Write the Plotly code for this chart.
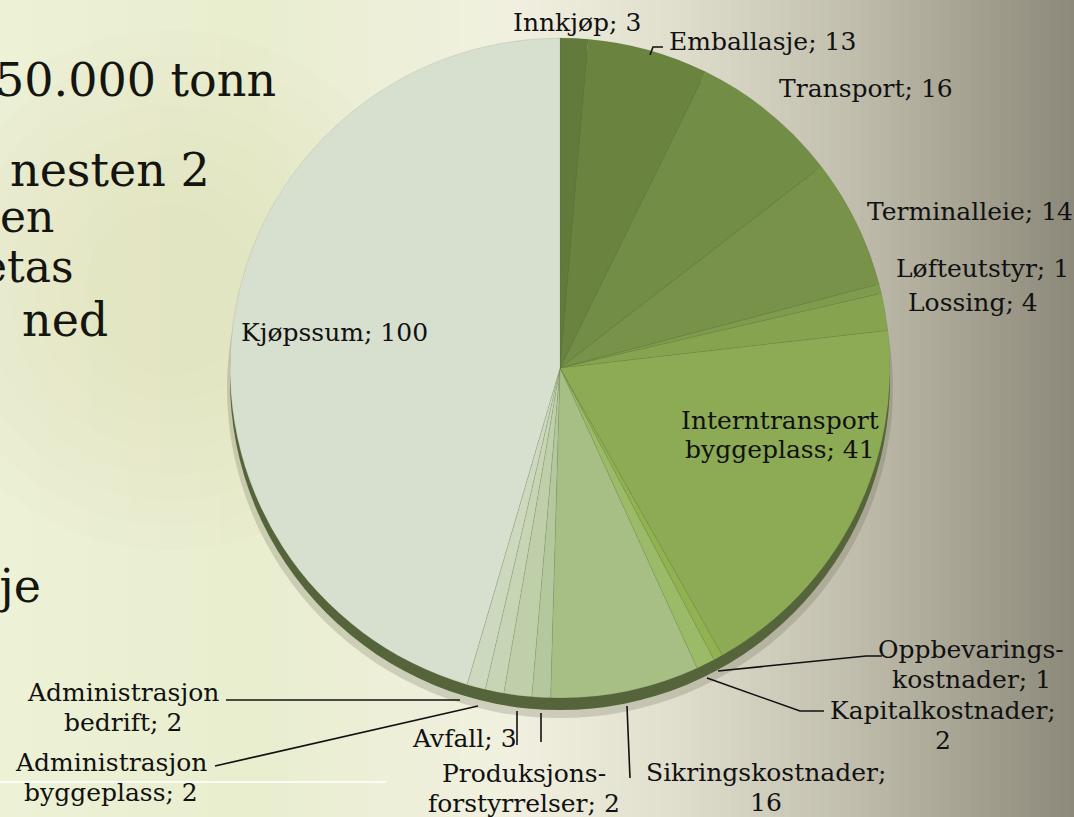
import plotly.graph_objects as go

W, H = 1074, 817

# ---- data ----
labels = ["Innkjøp", "Emballasje", "Transport", "Terminalleie", "Løfteutstyr", "Lossing",
          "Interntransport byggeplass", "Oppbevarings-kostnader", "Kapitalkostnader",
          "Sikringskostnader", "Produksjons-forstyrrelser", "Avfall",
          "Administrasjon byggeplass", "Administrasjon bedrift", "Kjøpssum"]
values = [3, 13, 16, 14, 1, 4, 41, 1, 2, 16, 2, 3, 2, 2, 100]
label_lines = [["Innkjøp; {v}"], ["Emballasje; {v}"], ["Transport; {v}"], ["Terminalleie; {v}"],
               ["Løfteutstyr; {v}"], ["Lossing; {v}"], ["Interntransport", "byggeplass; {v}"],
               ["Oppbevarings-", "kostnader; {v}"], ["Kapitalkostnader;", "{v}"],
               ["Sikringskostnader;", "{v}"], ["Produksjons-", "forstyrrelser; {v}"],
               ["Avfall; {v}"], ["Administrasjon", "byggeplass; {v}"],
               ["Administrasjon", "bedrift; {v}"], ["Kjøpssum; {v}"]]
colors = ["#627a3b", "#6a8440", "#728d45", "#78924a", "#7f9b4d", "#86a450", "#8dab55",
          "#92b150", "#9cbb68", "#a7bf85", "#b5c79d", "#bfcfaa", "#c7d5b6", "#cdd9bf", "#d7dfcf"]

bg_lines = ["50.000 tonn", "nesten 2", "en", "etas", "ned", "sje"]


def p(x, y):
    return x / W, 1 - y / H


def seg_path(pts):
    d = ""
    for i, (x, y) in enumerate(pts):
        px_, py_ = p(x, y)
        d += ("M" if i == 0 else "L") + f"{px_:.5f},{py_:.5f} "
    return d.strip()


shapes = []

# background gradient strips
stops = [(0, (237, 241, 214)), (250, (233, 238, 207)), (520, (241, 240, 224)),
         (680, (223, 221, 203)), (850, (193, 190, 173)), (1074, (140, 137, 122))]


def col_at(x):
    for (x0, c0), (x1, c1) in zip(stops[:-1], stops[1:]):
        if x0 <= x <= x1:
            t = (x - x0) / (x1 - x0)
            return tuple(int(round(c0[k] + (c1[k] - c0[k]) * t)) for k in range(3))
    return stops[-1][1]


step = 10
for x in range(0, W, step):
    c = col_at(x + step / 2)
    x0, _ = p(x, 0)
    x1, _ = p(x + step + 1, 0)
    shapes.append(dict(type="rect", xref="paper", yref="paper", x0=x0, x1=x1, y0=0, y1=1,
                       fillcolor=f"rgb{c}", line=dict(width=0), layer="below"))

# soft green glow on the left
for r in range(260, 60, -25):
    cx, cy = 170, 290
    x0, y1 = p(cx - r, cy - r)
    x1, y0 = p(cx + r, cy + r)
    shapes.append(dict(type="circle", xref="paper", yref="paper", x0=x0, x1=x1, y0=y0, y1=y1,
                       fillcolor="rgba(208,222,170,0.05)", line=dict(width=0), layer="below"))

# pie geometry
CX, CY, R = 560, 368, 330

# drop shadow and 3D edge
x0, y1 = p(CX - R - 3, CY - R + 20)
x1, y0 = p(CX + R + 3, CY + R + 20)
shapes.append(dict(type="circle", xref="paper", yref="paper", x0=x0, x1=x1, y0=y0, y1=y1,
                   fillcolor="rgba(90,90,70,0.22)", line=dict(width=0), layer="below"))
x0, y1 = p(CX - R, CY - R + 12)
x1, y0 = p(CX + R, CY + R + 12)
shapes.append(dict(type="circle", xref="paper", yref="paper", x0=x0, x1=x1, y0=y0, y1=y1,
                   fillcolor="#55643a", line=dict(width=0), layer="below"))

# white slide line bottom-left
xa, ya = p(0, 782)
xb, yb = p(386, 782)
shapes.append(dict(type="line", xref="paper", yref="paper", x0=xa, y0=ya, x1=xb, y1=yb,
                   line=dict(color="white", width=1.5), layer="below"))

# leader lines
leaders = [
    [(650, 55), (653, 47), (663, 47)],
    [(718, 671), (866, 656), (882, 656)],
    [(707, 678), (800, 711), (824, 711)],
    [(627, 706), (630, 778)],
    [(541, 713), (541, 742)],
    [(517, 711), (517, 745)],
    [(478, 706), (215, 766)],
    [(460, 700), (226, 700)],
]
for pts in leaders:
    shapes.append(dict(type="path", xref="paper", yref="paper", path=seg_path(pts),
                       line=dict(color="#111111", width=1.6), layer="above"))

fig = go.Figure()
dx0, dy1 = p(CX - R, CY - R)
dx1, dy0 = p(CX + R, CY + R)
fig.add_trace(go.Pie(
    labels=labels, values=values, sort=False, direction="clockwise", rotation=0,
    marker=dict(colors=colors, line=dict(width=0.4, color="rgba(80,100,50,0.3)")),
    textinfo="none", hoverinfo="label+value", showlegend=False,
    domain=dict(x=[dx0, dx1], y=[dy0, dy1]),
))

# data labels: (x, first-line centre y, anchor)
lab_pos = {
    0: (577, 22, "center"),
    1: (762, 42, "center"),
    2: (866, 88, "center"),
    3: (865, 212, "left"),
    4: (894, 268, "left"),
    5: (906, 303, "left"),
    6: (780, 420, "center"),
    7: (971, 649, "center"),
    8: (943, 710, "center"),
    9: (766, 772, "center"),
    10: (524, 773, "center"),
    11: (464, 738, "center"),
    12: (111, 762, "center"),
    13: (123, 692, "center"),
    14: (334, 332, "center"),
}
LS = 30
annotations = []
for i, (x, y, anc) in lab_pos.items():
    for k, line in enumerate(label_lines[i]):
        ax, ay = p(x, y + k * LS)
        annotations.append(dict(x=ax, y=ay, xref="paper", yref="paper",
                                text=line.format(v=values[i]),
                                showarrow=False, xanchor=anc, yanchor="middle", align="center",
                                font=dict(family="DejaVu Serif", size=25, color="#111111")))

# partially hidden slide text behind the chart
bg_pos = [(278, 80, 46), (212, 170, 46), (56, 216, 44), (76, 266, 44), (110, 320, 46), (43, 586, 46)]
for txt, (x, y, s) in zip(bg_lines, bg_pos):
    ax, ay = p(x, y)
    annotations.append(dict(x=ax, y=ay, xref="paper", yref="paper", text=txt,
                            showarrow=False, xanchor="right", yanchor="middle",
                            font=dict(family="DejaVu Serif", size=s, color="#151510")))

fig.update_layout(
    width=W, height=H, margin=dict(l=0, r=0, t=0, b=0),
    paper_bgcolor="#e9ecd6", plot_bgcolor="rgba(0,0,0,0)",
    shapes=shapes, annotations=annotations,
)

fig.write_html("out.html", config={"displayModeBar": False},
               post_script="document.body.style.margin='0';document.body.style.overflow='hidden';")
